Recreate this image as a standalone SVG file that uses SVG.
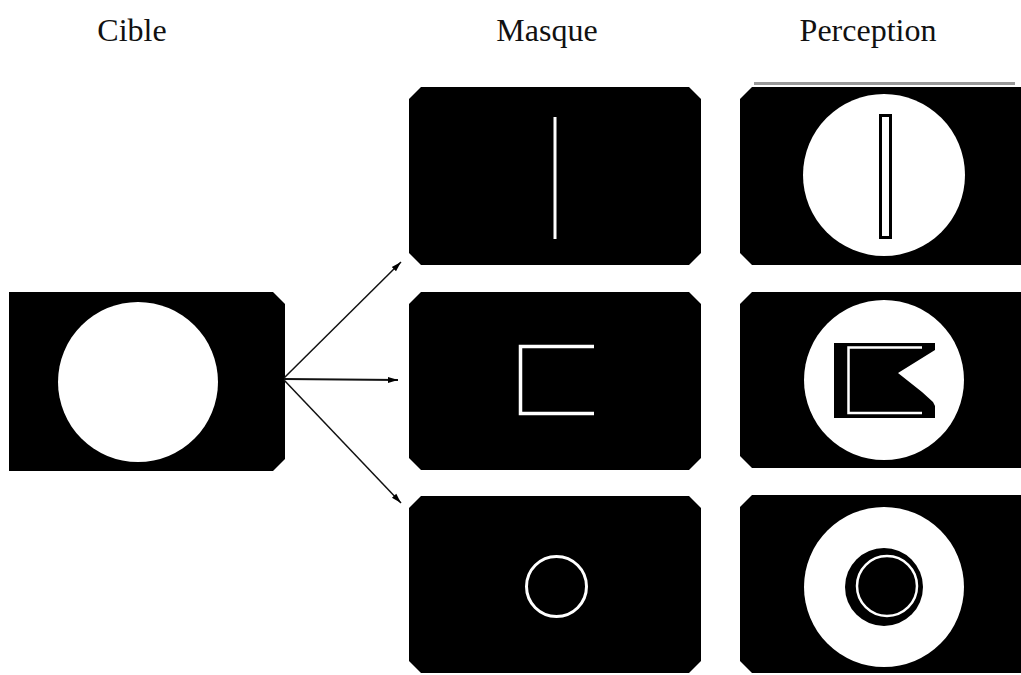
<svg xmlns="http://www.w3.org/2000/svg" width="1021" height="675" viewBox="0 0 1021 675">
<style>
.lbl{font-family:"Liberation Serif","Times New Roman","DejaVu Serif",serif;font-size:32px;fill:#111;text-anchor:middle}
.panel{fill:#000}
.w{fill:#fff}
.wl{fill:none;stroke:#fff}
.conn{stroke:#111;fill:none}
</style>
<defs>
<marker id="ah" viewBox="0 0 10 8" refX="10" refY="4" markerWidth="10" markerHeight="8" markerUnits="userSpaceOnUse" orient="auto">
<path d="M0,1 L10,4 L0,7 Z" fill="#000"/>
</marker>
</defs>
<rect width="1021" height="675" fill="#fff"/>
<text class="lbl" x="132" y="41">Cible</text>
<text class="lbl" x="547" y="41">Masque</text>
<text class="lbl" x="868" y="41">Perception</text>

<g id="cible">
<path class="panel" d="M9,292 H273 L285,304 V459 L273,471 H9 Z"/>
<circle class="w" cx="138" cy="382" r="80"/>
</g>

<g id="masque-ligne">
<path class="panel" d="M421,87 H689 L701,99 V253 L689,265 H421 L409,253 V99 Z"/>
<rect class="w" x="553.5" y="117" width="3" height="122"/>
</g>
<g id="masque-angle">
<path class="panel" d="M421,292 H689 L701,304 V458 L689,470 H421 L409,458 V304 Z"/>
<path class="wl" stroke-width="3.5" d="M594,346.5 H520.5 V413.5 H594"/>
</g>
<g id="masque-cercle">
<path class="panel" d="M421,496 H689 L701,508 V661 L689,673 H421 L409,661 V508 Z"/>
<circle class="wl" stroke-width="3" cx="556.5" cy="586.5" r="30"/>
</g>

<g id="perception-ligne">
<rect x="754" y="82" width="261" height="3" fill="#999"/>
<path class="panel" d="M752,87 H1021 V265 H752 L740,253 V99 Z"/>
<circle class="w" cx="884" cy="175" r="81"/>
<rect x="880.5" y="115.5" width="10" height="122" fill="#fff" stroke="#000" stroke-width="3"/>
</g>
<g id="perception-angle">
<path class="panel" d="M752,292 H1021 V468 H752 L740,456 V304 Z"/>
<circle class="w" cx="884" cy="380" r="80"/>
<path class="panel" d="M834,343 H935 V350 L898,373 L922,392 L933,402 L935,406 V418 H834 Z"/>
<path class="wl" stroke-width="2.5" d="M922,347.5 H848.5 V413 H922"/>
</g>
<g id="perception-cercle">
<path class="panel" d="M752,495 H1021 V673 H752 L740,661 V507 Z"/>
<circle class="w" cx="884" cy="587" r="80"/>
<circle class="panel" cx="884" cy="587" r="39"/>
<circle class="wl" stroke-width="2.5" cx="887" cy="586" r="30"/>
</g>

<g id="connecteurs">
<line class="conn" stroke-width="1.5" x1="284" y1="378" x2="401" y2="262" marker-end="url(#ah)"/>
<line class="conn" stroke-width="2" x1="284" y1="379" x2="398" y2="380" marker-end="url(#ah)"/>
<line class="conn" stroke-width="1.5" x1="284" y1="380" x2="401" y2="503" marker-end="url(#ah)"/>
</g>
</svg>
